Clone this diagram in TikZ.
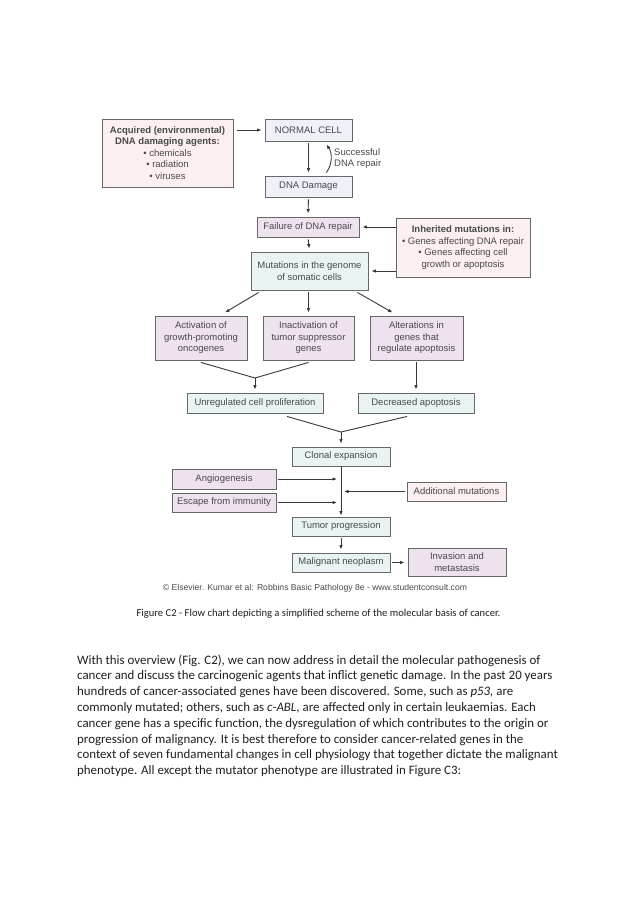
\documentclass[tikz,border=0pt]{standalone}
\usepackage{fontspec}
\usetikzlibrary{arrows.meta}
\newfontfamily\diagfont{Liberation Sans}
\newfontfamily\bodyfont{Carlito}
\newcommand\mydiagf{\diagfont\fontsize{9.5}{11.5}\selectfont}
\newcommand\mybodyf{\bodyfont\fontsize{12.9}{15.7}\selectfont}
\newcommand\mycapf{\bodyfont\fontsize{10.6}{12}\selectfont}
\definecolor{bordc}{HTML}{676767}
\definecolor{linec}{HTML}{383838}
\definecolor{pinkf}{HTML}{FBEFEF}
\definecolor{lavf}{HTML}{EDE2EE}
\definecolor{bluef}{HTML}{EEF1F7}
\definecolor{cyanf}{HTML}{EAF3F4}
\definecolor{txtc}{HTML}{4A4A4A}
\begin{document}
\begin{tikzpicture}[x=1pt,y=-1pt,
  bx/.style={draw=bordc, line width=0.9pt, inner sep=1pt, align=center, font=\mydiagf, text=txtc},
  ln/.style={draw=linec, line width=0.9pt},
  arr/.style={ln, -{Latex[length=4.5pt,width=3.6pt]}},
  bl/.style={anchor=base west, inner sep=0pt, font=\mybodyf, text=black!88}]
\fill[white] (0,0) rectangle (638,903);
\useasboundingbox (0,0) rectangle (638,903);

% top
\node[bx, fill=pinkf, minimum width=131, minimum height=68] (acq) at (167.5,153)
  {\textbf{Acquired (environmental)}\\\textbf{DNA damaging agents:}\\• chemicals\\• radiation\\• viruses};
\node[bx, fill=bluef, minimum width=87, minimum height=22] (normal) at (308.5,130) {NORMAL CELL};
\node[bx, fill=bluef, minimum width=87, minimum height=21] (damage) at (308.5,186.5) {DNA Damage};
\node[bx, fill=lavf, minimum width=102, minimum height=20] (failure) at (308,227) {Failure of DNA repair};
\node[bx, fill=pinkf, minimum width=134, minimum height=59] (inh) at (463,247.5)
  {\textbf{Inherited mutations in:}\\• Genes affecting DNA repair\\• Genes affecting cell\\growth or apoptosis};
\node[bx, fill=cyanf, minimum width=117, minimum height=38] (mut) at (309.5,271) {Mutations in the genome\\of somatic cells};

% three boxes
\node[bx, fill=lavf, minimum width=92, minimum height=44] (act) at (201,338) {Activation of\\growth-promoting\\oncogenes};
\node[bx, fill=lavf, minimum width=91, minimum height=44] (inact) at (308.5,338) {Inactivation of\\tumor suppressor\\genes};
\node[bx, fill=lavf, minimum width=93, minimum height=44] (alt) at (416.5,338) {Alterations in\\genes that\\regulate apoptosis};

\node[bx, fill=cyanf, minimum width=136, minimum height=20] (unreg) at (255,403) {Unregulated cell proliferation};
\node[bx, fill=cyanf, minimum width=116, minimum height=20] (decr) at (416,403) {Decreased apoptosis};

\node[bx, fill=cyanf, minimum width=98, minimum height=19] (clonal) at (341,456.5) {Clonal expansion};
\node[bx, fill=lavf, minimum width=104, minimum height=20] (angio) at (224,479) {Angiogenesis};
\node[bx, fill=lavf, minimum width=104, minimum height=19] (escape) at (224,502.5) {Escape from immunity};
\node[bx, fill=pinkf, minimum width=99, minimum height=19] (addmut) at (456.5,491.5) {Additional mutations};
\node[bx, fill=cyanf, minimum width=98, minimum height=19] (tumor) at (341,526.5) {Tumor progression};
\node[bx, fill=cyanf, minimum width=98, minimum height=19] (malig) at (341,562.5) {Malignant neoplasm};
\node[bx, fill=lavf, minimum width=98, minimum height=28] (inv) at (457,562) {Invasion and\\metastasis};

% side label
\node[anchor=west, align=left, inner sep=0pt, font=\mydiagf, text=txtc] (srep) at (334,158.5) {Successful\\DNA repair};

% connectors
\draw[arr, shorten <=4pt, shorten >=3pt] (acq.east |- normal.west) -- (normal.west);
\draw[arr, shorten <=2pt, shorten >=3pt] (normal.south) -- (damage.north);
\draw[arr] ([xshift=18pt,yshift=3pt]damage.north) .. controls +(6,-9) and +(6,9) .. ([xshift=18pt,yshift=-3pt]normal.south);
\draw[arr, shorten <=2pt, shorten >=3pt] (damage.south) -- (failure.north);
\draw[arr, shorten <=2pt, shorten >=3pt] (failure.south) -- (mut.north);
\draw[arr, shorten >=3pt] (inh.west |- failure.east) -- (failure.east);
\draw[arr, shorten >=3pt] (inh.west |- mut.east) -- (mut.east);

\draw[arr] ([xshift=8pt,yshift=-2pt]mut.south west) -- ([xshift=24pt,yshift=3pt]act.north);
\draw[arr, shorten <=2pt, shorten >=3pt] (mut.south -| inact.north) -- (inact.north);
\draw[arr] ([xshift=-11pt,yshift=-2pt]mut.south east) -- ([xshift=-24pt,yshift=3pt]alt.north);

\coordinate (j1) at (255,378);
\draw[ln] ([yshift=-2pt]act.south) -- (j1);
\draw[ln] ([yshift=-2pt]inact.south) -- (j1);
\draw[arr, shorten >=3pt] (j1) -- (unreg.north);
\draw[arr, shorten <=2pt, shorten >=3pt] (alt.south -| decr.north) -- (decr.north);

\coordinate (j2) at (341,432);
\draw[ln] ([xshift=32pt,yshift=-3pt]unreg.south) -- (j2);
\draw[ln] ([xshift=-9pt,yshift=-3pt]decr.south) -- (j2);
\draw[arr, shorten >=3pt] (j2) -- (clonal.north);

\draw[arr, shorten >=1pt] (clonal.south) -- (tumor.north);
\coordinate (ai) at (angio.east -| clonal.south);
\coordinate (ei) at (escape.east -| clonal.south);
\coordinate (mi) at (addmut.west -| clonal.south);
\draw[arr, shorten <=2pt, shorten >=4pt] (angio.east) -- (ai);
\draw[arr, shorten <=2pt, shorten >=4pt] (escape.east) -- (ei);
\draw[arr, shorten <=2pt, shorten >=3pt] (addmut.west) -- (mi);
\draw[arr, shorten <=2pt, shorten >=3pt] (tumor.south) -- (malig.north);
\draw[arr, shorten <=2pt, shorten >=3pt] (malig.east) -- (malig.east -| inv.west);

% copyright
\node[anchor=base, inner sep=0pt, text=txtc] (copy) at (315,590)
  {\resizebox{304pt}{!}{\diagfont\fontsize{8}{9}\selectfont \textcopyright{} Elsevier. Kumar et al: Robbins Basic Pathology 8e - www.studentconsult.com}};

% caption
\node[anchor=base, inner sep=0pt, font=\mycapf, text=black!88] (cap) at (318.5,616.5)
  {Figure C2 - Flow chart depicting a simplified scheme of the molecular basis of cancer.};

% paragraph
\node[bl] (p1) at (77,664) {With this overview (Fig. C2), we can now address in detail the molecular pathogenesis of};
\node[bl] (p2) at (77,679.8) {cancer and discuss the carcinogenic agents that inflict genetic damage. In the past 20 years};
\node[bl] (p3) at (77,695.6) {hundreds of cancer-associated genes have been discovered. Some, such as \textit{p53,} are};
\node[bl] (p4) at (77,711.3) {commonly mutated; others, such as \textit{c-ABL,} are affected only in certain leukaemias. Each};
\node[bl] (p5) at (77,727.2) {cancer gene has a specific function, the dysregulation of which contributes to the origin or};
\node[bl] (p6) at (77,743.1) {progression of malignancy. It is best therefore to consider cancer-related genes in the};
\node[bl] (p7) at (77,758.9) {context of seven fundamental changes in cell physiology that together dictate the malignant};
\node[bl] (p8) at (77,774.7) {phenotype. All except the mutator phenotype are illustrated in Figure C3:};
\end{tikzpicture}
\end{document}
